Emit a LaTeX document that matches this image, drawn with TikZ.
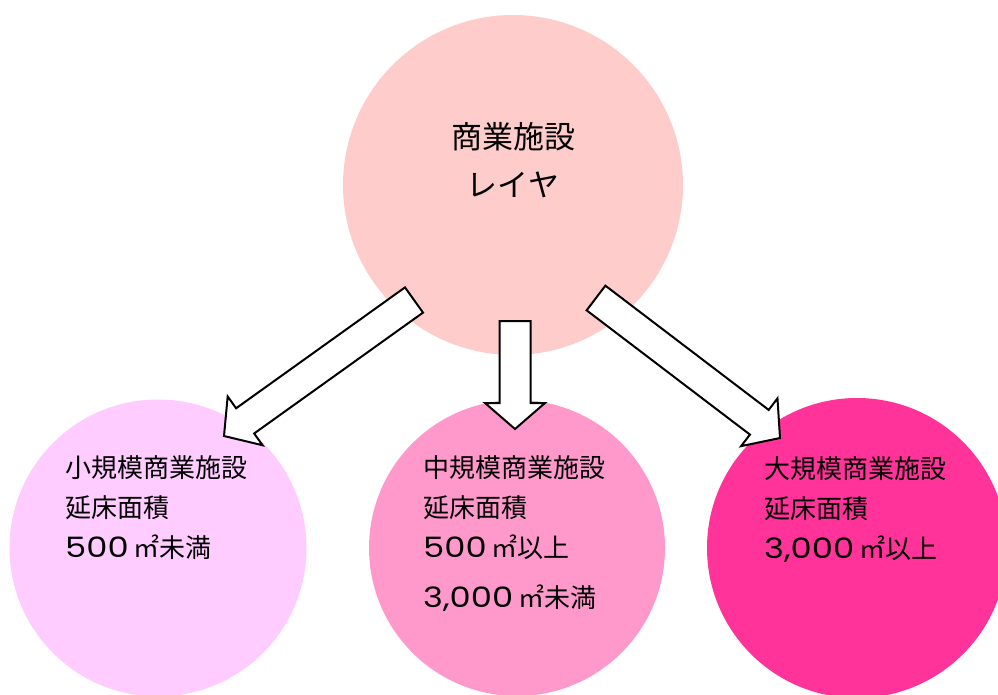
\documentclass[tikz,border=0pt]{standalone}
\usepackage{fontspec}
\setmainfont{Noto Sans CJK JP}
\newfontfamily\digitfont[Scale=1.08,FakeStretch=1.2]{Poppins}
\usetikzlibrary{calc}

\definecolor{layerpink}{HTML}{FFCCCC}
\definecolor{smallpink}{HTML}{FFCCFF}
\definecolor{mediumpink}{HTML}{FF99CC}
\definecolor{largepink}{HTML}{FF3399}

\newcommand{\areanum}[1]{{\digitfont #1}\hspace{5pt}}

\tikzset{
  bubble/.style={circle, inner sep=0pt, draw=none},
  areatext/.style={anchor=north west, align=left, inner sep=0pt, font=\fontsize{26}{40}\selectfont},
  fatarrow/.style={draw=black, fill=white, line width=2pt, line join=miter},
}

\begin{document}
\begin{tikzpicture}[x=1pt, y=-1pt]
  \useasboundingbox (0,0) rectangle (998,695);

  % Top circle: the layer
  \node[bubble, fill=layerpink, minimum size=340pt] (layer) at (513,185) {};
  \node[align=center, inner sep=0pt, font=\fontsize{31}{48}\selectfont] (layertext) at (513,160) {商業施設\\レイヤ};

  % Bottom circles: small, medium, large
  \node[bubble, fill=smallpink, minimum size=297pt] (small) at (158,548) {};
  \node[bubble, fill=mediumpink, minimum size=296pt] (medium) at (517,548) {};
  \node[bubble, fill=largepink, minimum size=300pt] (large) at (857,548) {};

  % Texts in the bottom circles
  \node[areatext] (smalltext) at (65,455) {小規模商業施設\\延床面積\\\areanum{500}㎡未満};
  \node[areatext] (mediumtext) at (423,455) {中規模商業施設\\延床面積\\\areanum{500}㎡以上\\[10pt]\areanum{3,000}㎡未満};
  \node[areatext] (largetext) at (764,456) {大規模商業施設\\延床面積\\\areanum{3,000}㎡以上};

  % Block arrows from the layer down to each circle
  \coordinate (smallfrom) at (414,300);
  \coordinate (smallto) at (224,436);
  \coordinate (mediumfrom) at (515,321);
  \coordinate (mediumto) at (515,429);
  \coordinate (largefrom) at (596,298);
  \coordinate (largeto) at (780,438);

  \foreach \from/\to in {smallfrom/smallto, mediumfrom/mediumto, largefrom/largeto}{
    \coordinate (neck) at ($(\to)!26pt!(\from)$);
    \draw[fatarrow] ($(\from)!15.5pt!90:(\to)$) -- ($(neck)!15.5pt!90:(\to)$)
      -- ($(neck)!30pt!90:(\to)$) -- (\to) -- ($(neck)!30pt!-90:(\to)$)
      -- ($(neck)!15.5pt!-90:(\to)$) -- ($(\from)!15.5pt!-90:(\to)$) -- cycle;
  }
\end{tikzpicture}
\end{document}
